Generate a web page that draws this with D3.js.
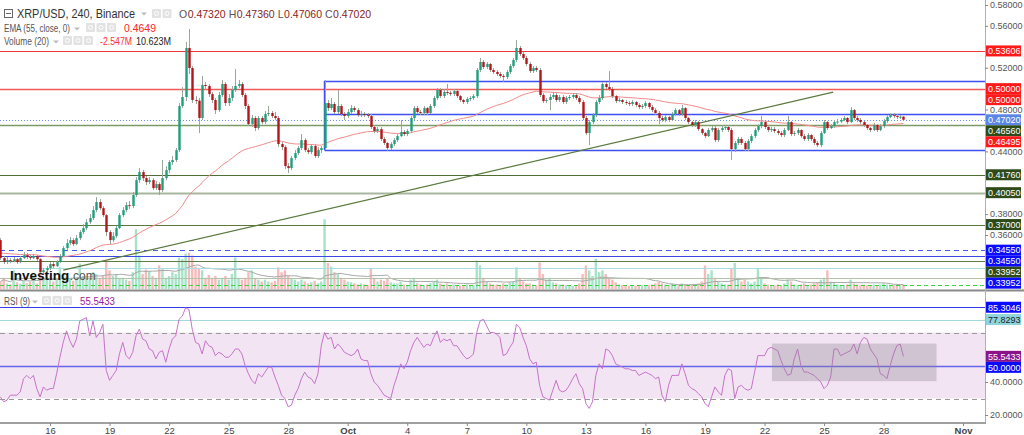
<!DOCTYPE html>
<html lang="en">
<head>
<meta charset="UTF-8">
<title>XRP/USD, 240, Binance</title>
<script src="https://d3js.org/d3.v7.min.js"></script>
<style>
body { margin: 0; background: #fff; }
svg { display: block; font-family: "Liberation Sans", Arial, sans-serif; }
</style>
</head>
<body>
<svg width="1024" height="435"></svg>
<script>
// ---- data (4h candles, XRP/USD Binance, from Sep 13 2018 12:00 UTC) ----
const firstOpen = 0.3551;
const closes = [
  .3379,.3341,.3360,.3350,.3369,.3341,.3379,.3408,.3389,.3379,
  .3398,.3369,.3245,.3264,.3283,.3322,.3302,.3341,.3398,.3475,
  .3522,.3551,.3513,.3570,.3628,.3666,.3723,.3762,.3838,.3915,
  .3857,.3790,.3628,.3551,.3589,.3666,.3790,.3838,.3886,.3877,
  .3982,.4125,.4202,.4144,.4106,.4125,.4049,.4087,.4030,.4144,
  .4221,.4298,.4317,.4412,.4834,.4920,.5389,.5197,.4891,.4885,
  .4719,.5035,.5025,.4948,.4891,.4795,.4939,.5044,.4862,.4910,
  .4987,.5025,.5044,.4939,.4834,.4661,.4719,.4623,.4719,.4680,
  .4757,.4767,.4738,.4719,.4470,.4441,.4259,.4240,.4336,.4384,
  .4432,.4508,.4412,.4393,.4451,.4355,.4412,.4432,.4862,.4814,
  .4853,.4776,.4834,.4757,.4738,.4776,.4814,.4795,.4747,.4757,
  .4750,.4738,.4633,.4594,.4613,.4518,.4480,.4432,.4470,.4508,
  .4546,.4585,.4566,.4594,.4719,.4814,.4776,.4767,.4814,.4767,
  .4834,.4910,.4987,.4929,.4968,.4960,.4948,.4977,.4929,.4891,
  .4872,.4901,.4910,.4929,.5178,.5255,.5207,.5236,.5178,.5159,
  .5140,.5121,.5111,.5159,.5216,.5274,.5389,.5331,.5293,.5236,
  .5168,.5197,.5178,.4939,.4881,.4891,.4920,.4939,.4891,.4920,
  .4872,.4910,.4920,.4939,.4910,.4872,.4719,.4575,.4680,.4747,
  .4872,.4910,.5044,.5015,.4996,.4929,.4881,.4891,.4872,.4862,
  .4853,.4872,.4843,.4824,.4834,.4862,.4824,.4795,.4767,.4719,
  .4700,.4728,.4700,.4757,.4795,.4757,.4814,.4719,.4680,.4652,
  .4680,.4613,.4575,.4546,.4604,.4623,.4508,.4604,.4623,.4633,
  .4604,.4422,.4480,.4518,.4480,.4422,.4499,.4546,.4604,.4642,
  .4680,.4633,.4604,.4613,.4594,.4575,.4556,.4604,.4680,.4566,
  .4575,.4604,.4546,.4518,.4556,.4518,.4480,.4460,.4575,.4680,
  .4623,.4642,.4680,.4685,.4700,.4719,.4680,.4795,.4719,.4700,
  .4680,.4652,.4623,.4604,.4652,.4604,.4642,.4690,.4728,.4747,
  .4738,.4728,.4732,.4702
];
const highs = [
  .3570,.3400,.3389,.3379,.3389,.3379,.3398,.3437,.3427,.3408,
  .3418,.3408,.3379,.3283,.3302,.3341,.3341,.3360,.3418,.3494,
  .3560,.3580,.3570,.3599,.3647,.3705,.3752,.3800,.3877,.3963,
  .3944,.3877,.3800,.3647,.3628,.3685,.3810,.3867,.3915,.3925,
  .4011,.4154,.4240,.4221,.4164,.4154,.4144,.4116,.4106,.4317,
  .4259,.4317,.4355,.4432,.4862,.5015,.5446,.5570,.5216,.4929,
  .4910,.5121,.5063,.5044,.4968,.4910,.4968,.5082,.5063,.4948,
  .5025,.5188,.5082,.5063,.4958,.4853,.4747,.4738,.4738,.4738,
  .4786,.4834,.4786,.4776,.4738,.4489,.4460,.4288,.4355,.4412,
  .4451,.4566,.4527,.4432,.4470,.4470,.4441,.4451,.5082,.4891,
  .4910,.4872,.4987,.4853,.4776,.4805,.4843,.4834,.4814,.4786,
  .4776,.4767,.4757,.4652,.4633,.4633,.4537,.4489,.4489,.4527,
  .4566,.4700,.4604,.4613,.4738,.4834,.4834,.4795,.4834,.4824,
  .4853,.4929,.5006,.5006,.4996,.5044,.4977,.4996,.4987,.4939,
  .4901,.4920,.4929,.4948,.5197,.5293,.5274,.5255,.5245,.5197,
  .5178,.5159,.5140,.5178,.5236,.5293,.5465,.5408,.5350,.5312,
  .5255,.5216,.5216,.5197,.4958,.4910,.4948,.4968,.4958,.4939,
  .4939,.4929,.4939,.4958,.4958,.4929,.4891,.4738,.4700,.4767,
  .4891,.4939,.5063,.5063,.5168,.5015,.4939,.4910,.4901,.4891,
  .4881,.4891,.4881,.4862,.4853,.4881,.4872,.4843,.4814,.4786,
  .4738,.4747,.4738,.4776,.4814,.4805,.4843,.4824,.4728,.4690,
  .4700,.4690,.4623,.4585,.4623,.4642,.4642,.4623,.4652,.4652,
  .4652,.4623,.4499,.4537,.4537,.4499,.4518,.4566,.4623,.4661,
  .4738,.4700,.4652,.4633,.4633,.4613,.4594,.4623,.4738,.4690,
  .4594,.4623,.4613,.4566,.4575,.4566,.4537,.4499,.4594,.4700,
  .4690,.4661,.4700,.4710,.4719,.4738,.4728,.4824,.4805,.4738,
  .4719,.4690,.4661,.4633,.4671,.4661,.4661,.4710,.4747,.4767,
  .4767,.4757,.4747,.4736
];
const lows = [
  .3360,.3322,.3322,.3331,.3341,.3322,.3331,.3370,.3370,.3360,
  .3370,.3350,.3226,.3216,.3245,.3264,.3283,.3293,.3331,.3389,
  .3456,.3503,.3494,.3503,.3551,.3608,.3647,.3705,.3743,.3819,
  .3838,.3771,.3589,.3513,.3532,.3570,.3656,.3771,.3819,.3848,
  .3857,.3963,.4097,.4116,.4078,.4087,.4030,.4030,.3982,.4011,
  .4125,.4192,.4269,.4298,.4393,.4814,.4881,.5140,.4862,.4853,
  .4575,.4700,.4987,.4920,.4862,.4757,.4776,.4920,.4834,.4834,
  .4881,.4968,.5006,.4920,.4805,.4642,.4633,.4594,.4604,.4661,
  .4661,.4738,.4719,.4700,.4441,.4412,.4230,.4192,.4221,.4317,
  .4365,.4412,.4393,.4374,.4374,.4336,.4336,.4384,.4422,.4786,
  .4795,.4757,.4757,.4738,.4700,.4719,.4757,.4776,.4728,.4728,
  .4728,.4719,.4613,.4575,.4575,.4499,.4460,.4403,.4412,.4451,
  .4489,.4537,.4546,.4546,.4575,.4700,.4757,.4747,.4747,.4747,
  .4757,.4814,.4891,.4910,.4910,.4939,.4929,.4929,.4910,.4872,
  .4853,.4853,.4881,.4891,.4910,.5159,.5188,.5188,.5159,.5140,
  .5121,.5101,.5063,.5092,.5140,.5197,.5255,.5312,.5274,.5216,
  .5149,.5149,.5159,.4920,.4862,.4862,.4795,.4901,.4872,.4872,
  .4853,.4853,.4891,.4901,.4891,.4853,.4700,.4556,.4460,.4661,
  .4728,.4853,.4891,.4996,.4977,.4910,.4862,.4872,.4853,.4843,
  .4834,.4834,.4824,.4805,.4805,.4814,.4805,.4776,.4747,.4661,
  .4680,.4680,.4680,.4690,.4738,.4738,.4738,.4700,.4661,.4633,
  .4633,.4594,.4556,.4527,.4537,.4585,.4489,.4489,.4585,.4604,
  .4585,.4317,.4393,.4460,.4460,.4403,.4403,.4480,.4527,.4585,
  .4623,.4613,.4585,.4585,.4575,.4556,.4537,.4537,.4594,.4546,
  .4546,.4556,.4527,.4499,.4499,.4499,.4460,.4441,.4441,.4566,
  .4604,.4613,.4623,.4661,.4671,.4690,.4661,.4671,.4700,.4680,
  .4661,.4633,.4604,.4585,.4594,.4585,.4594,.4623,.4671,.4719,
  .4719,.4710,.4710,.4702
];
// volume in millions XRP
const volumes = [
  20,30,15,12,50,18,14,22,16,20, 37,15,45,30,45,25,20,25,58,40,
  35,28,22,30,68,35,30,28,45,40, 30,35,76,50,35,40,30,30,25,22,
  45,160,90,40,52,48,35,30,63,55, 30,35,45,40,84,80,95,97,90,60,
  55,50,30,38,30,35,25,30,35,25, 40,84,30,25,30,45,50,30,25,20,
  25,20,18,22,58,45,50,35,30,25, 20,25,20,15,18,22,15,20,187,70,
  60,45,40,30,25,20,18,15,12,15, 12,10,55,30,20,25,22,30,18,15,
  15,20,12,10,25,30,15,12,10,12, 15,20,25,15,12,15,10,12,10,8,
  10,12,8,10,76,63,30,20,15,12, 12,10,15,12,18,20,58,30,20,15,
  15,12,10,71,40,25,30,18,15,12, 12,10,10,8,10,15,40,63,50,35,
  81,45,50,40,30,25,18,12,10,10, 8,10,8,8,10,8,10,12,15,20,
  15,12,10,15,12,10,15,12,10,12, 10,15,20,63,40,50,30,20,15,12,
  12,55,70,30,20,25,20,15,20,55, 30,15,12,10,10,12,10,15,25,20,
  12,10,12,15,10,12,15,18,25,30, 50,20,15,12,10,10,12,25,15,12,
  10,12,10,10,12,10,12,15,12,10, 10,12,10,10.623
];
const rsiValues = [
  31,28,29,32,32,32,34,42,44,42, 44,36,31,37,35,36,36,45,55,64,
  71,65,61,66,77,78,79,68,77,67, 70,75,47,41,44,47,57,64,56,54,
  58,68,72,66,65,60,59,54,58,59, 52,60,66,68,78,80,85,84,72,64,
  63,57,65,62,61,56,58,57,55,55, 57,60,60,57,50,45,41,39,45,43,
  46,49,49,43,38,32,30,25,26,32, 36,42,46,43,42,39,45,62,70,66,
  67,60,63,61,58,57,56,57,60,54, 53,53,45,40,38,35,32,31,30,38,
  44,51,48,52,59,64,67,64,61,63, 62,67,71,64,66,65,66,62,62,59,
  56,54,55,57,70,77,78,74,70,70, 69,67,56,57,61,64,75,73,67,62,
  54,51,52,38,31,30,29,35,41,35, 34,35,38,42,45,39,36,27,24,28,
  44,51,48,60,59,56,51,50,49,48, 48,47,47,44,45,46,45,44,42,43,
  32,28,38,44,44,44,51,45,38,36, 35,33,31,27,25,31,37,34,32,44,
  48,47,30,37,38,36,35,36,46,56, 56,56,60,61,60,59,53,48,44,45,
  54,60,50,46,46,45,44,42,40,36, 38,43,60,60,56,57,58,59,63,57,
  64,67,66,60,57,54,45,44,42,50, 57,62,63,55.5433
];
const emaStart = 0.343;

// drawn levels (prices) on the price pane
const levelPrices = [0.53606, 0.5, 0.4702, 0.4656, 0.4176, 0.4005, 0.37, 0.3455, 0.33952, 0.3352, 0.3285, 0.3190, 0.3123];
const boxPrices = [0.5076, 0.4756, 0.4412];   // top, middle, bottom of the range box
const boxStart = Date.UTC(2018, 8, 29, 20);
const trendPoints = [[Date.UTC(2018, 8, 16, 16), 0.3264], [Date.UTC(2018, 9, 25, 11), 0.4967]];
const priceLabelTexts = ["0.53606", "0.50000", "0.50000", "0.47020", "0.46560", "0.46495", "0.41760", "0.40050", "0.37000", "0.34550", "0.34550", "0.33952", "0.33952"];
const priceLabelValues = [0.53606, 0.5, 0.5, 0.4702, 0.4656, 0.46495, 0.4176, 0.4005, 0.37, 0.3455, 0.3455, 0.33952, 0.33952];
const rsiLevels = [85.3046, 77.8293, 50];
const rsiLabelTexts = ["85.3046", "77.8293", "55.5433", "50.0000"];
const rsiLabelValues = [85.3046, 77.8293, 55.5433, 50];
const rsiBox = { start: Date.UTC(2018, 9, 22, 9), end: Date.UTC(2018, 9, 30, 16), top: 63.3, bottom: 40.5 };
const dayTicks = [[8,16],[8,19],[8,22],[8,25],[8,28],[9,1],[9,4],[9,7],[9,10],[9,13],[9,16],[9,19],[9,22],[9,25],[9,28],[10,1]];
const ohlcLetters = ["O", "H", "L", "C"];
const ohlcValues = ["0.47320", "0.47360", "0.47060", "0.47020"];

// ---- styles ----
const levelStyle = [
  { c: "#ee3b3b", w: 1 }, { c: "#f25a5a", w: 1.5 }, { c: "#6c8ff0", w: 1, d: "1,2" },
  { c: "#7d9a62", w: 1.5 }, { c: "#4f6d34", w: 1 }, { c: "#a7b69d", w: 2 }, { c: "#58783c", w: 1 },
  { c: "#4b5cf2", w: 1, d: "5,4" }, { c: "#3a48e6", w: 1 }, { c: "#5f7a44", w: 1 },
  { c: "#a9dde3", w: 1.2 }, { c: "#b3c2a8", w: 1 }, { c: "#3fd03f", w: 1, d: "4,3" }
];
const priceLabelColors = ["#ff1a1a", "#ff1a1a", "#ff1a1a", "#5b86e5", "#2f4a19", "#ff1a1a", "#2f4a19", "#2f4a19", "#2f4a19", "#0a0aff", "#0a0aff", "#2f4a19", "#0a0aff"];
const rsiLabelColors = ["#0a0aff", "#8fd4dc", "#8b148b", "#0a0aff"];
const rsiLabelText = ["#fff", "#222", "#fff", "#fff"];

const svg = d3.select("svg");
const plotRight = 985, priceBottom = 289, rsiBottom = 423;

const x = d3.scaleUtc().domain([Date.UTC(2018, 8, 16), Date.UTC(2018, 10, 1)]).range([50, 963]);
const y = d3.scaleLinear().domain([0.36, 0.58]).range([235, 5]);
const yR = d3.scaleLinear().domain([20, 60]).range([415, 349]);
const yV = d3.scaleLinear().domain([0, 190]).range([priceBottom, 218]);

const start = Date.UTC(2018, 8, 13, 12);
const step = 4 * 3600 * 1000;
const n = Math.min(closes.length, highs.length, lows.length, volumes.length, rsiValues.length);
const candles = d3.range(n).map(i => ({
  t: start + i * step,
  o: i ? closes[i - 1] : firstOpen,
  h: highs[i], l: lows[i], c: closes[i],
  v: volumes[i], r: rsiValues[i]
}));
let e = emaStart;
candles.forEach((d, i) => {
  e = e + (d.c - e) * 2 / 56;
  d.ema = e;
  const win = candles.slice(Math.max(0, i - 19), i + 1);
  d.vma = d3.mean(win, w => w.v);
});

svg.append("rect").attr("width", 1024).attr("height", 435).attr("fill", "#fff");

const defs = svg.append("defs");
defs.append("clipPath").attr("id", "pclip").append("rect").attr("x", 0).attr("y", 0).attr("width", plotRight).attr("height", priceBottom);
defs.append("clipPath").attr("id", "rclip").append("rect").attr("x", 0).attr("y", 292).attr("width", plotRight).attr("height", rsiBottom - 292);

const pane = svg.append("g").attr("clip-path", "url(#pclip)");

// volume
pane.append("g").selectAll("rect").data(candles).join("rect")
  .attr("x", d => x(d.t) - 1.2).attr("width", 2.4)
  .attr("y", d => yV(d.v)).attr("height", d => priceBottom - yV(d.v))
  .attr("fill", d => d.c >= d.o ? "#a6e3c8" : "#f7baba");
pane.append("path").datum(candles)
  .attr("fill", "none").attr("stroke", "#a8a8a8").attr("stroke-width", 1)
  .attr("d", d3.line().x(d => x(d.t)).y(d => yV(d.vma)));

// horizontal levels
pane.append("g").selectAll("line").data(levelPrices).join("line")
  .attr("x1", 0).attr("x2", plotRight)
  .attr("y1", d => Math.round(y(d)) + 0.5).attr("y2", d => Math.round(y(d)) + 0.5)
  .attr("stroke", (d, i) => levelStyle[i].c)
  .attr("stroke-width", (d, i) => levelStyle[i].w)
  .attr("stroke-dasharray", (d, i) => levelStyle[i].d || null);

// range box
const bx = x(boxStart);
pane.append("g").selectAll("line").data(boxPrices).join("line")
  .attr("x1", bx).attr("x2", plotRight)
  .attr("y1", d => Math.round(y(d)) + 0.5).attr("y2", d => Math.round(y(d)) + 0.5)
  .attr("stroke", "#3f4ff0").attr("stroke-width", 1.6);
pane.append("line").attr("x1", bx).attr("x2", bx)
  .attr("y1", y(boxPrices[0])).attr("y2", y(boxPrices[2]))
  .attr("stroke", "#3f4ff0").attr("stroke-width", 1.6);

// EMA 55
pane.append("path").datum(candles)
  .attr("fill", "none").attr("stroke", "#f28a8a").attr("stroke-width", 1)
  .attr("d", d3.line().x(d => x(d.t)).y(d => y(d.ema)));

// trend line
pane.append("line")
  .attr("x1", x(trendPoints[0][0])).attr("y1", y(trendPoints[0][1]))
  .attr("x2", x(trendPoints[1][0])).attr("y2", y(trendPoints[1][1]))
  .attr("stroke", "#5b7a3f").attr("stroke-width", 1.2);

// candles
const cg = pane.append("g");
cg.selectAll("line").data(candles).join("line")
  .attr("x1", d => Math.round(x(d.t)) + 0.5).attr("x2", d => Math.round(x(d.t)) + 0.5)
  .attr("y1", d => y(d.h)).attr("y2", d => y(d.l))
  .attr("stroke", "#9aa79a").attr("stroke-width", 1);
cg.selectAll("rect").data(candles).join("rect")
  .attr("x", d => Math.round(x(d.t)) - 0.7).attr("width", 2.4)
  .attr("y", d => y(Math.max(d.o, d.c)))
  .attr("height", d => Math.max(1, Math.abs(y(d.o) - y(d.c))))
  .attr("fill", d => d.c >= d.o ? "#1f9e7c" : "#b3161a");

// watermark
const wm1 = svg.append("text").attr("x", 10).attr("y", 280).attr("font-weight", "bold").attr("font-size", 13.5).attr("fill", "#111").text("Investing");
svg.append("text").attr("x", 10.5 + wm1.node().getComputedTextLength()).attr("y", 280).attr("font-size", 12).attr("fill", "#555").text(".com");

// ---- RSI pane ----
const rp = svg.append("g").attr("clip-path", "url(#rclip)");
rp.append("rect").attr("x", 0).attr("width", plotRight)
  .attr("y", yR(70)).attr("height", yR(30) - yR(70)).attr("fill", "#f2e4f2");
[70, 30].forEach(v => rp.append("line").attr("x1", 0).attr("x2", plotRight)
  .attr("y1", Math.round(yR(v)) + 0.5).attr("y2", Math.round(yR(v)) + 0.5)
  .attr("stroke", "#999").attr("stroke-dasharray", "5,4"));
rp.selectAll(".rl").data(rsiLevels).join("line").attr("class", "rl")
  .attr("x1", 0).attr("x2", plotRight)
  .attr("y1", d => Math.round(yR(d)) + 0.5).attr("y2", d => Math.round(yR(d)) + 0.5)
  .attr("stroke", (d, i) => ["#3a3ae8", "#9fd8de", "#6464ee"][i])
  .attr("stroke-width", (d, i) => i === 2 ? 1.6 : 1);
rp.append("path").datum(candles)
  .attr("fill", "none").attr("stroke", "#c673c9").attr("stroke-width", 1)
  .attr("d", d3.line().x(d => x(d.t)).y(d => yR(d.r)));
rp.append("rect")
  .attr("x", x(rsiBox.start)).attr("width", x(rsiBox.end) - x(rsiBox.start))
  .attr("y", yR(rsiBox.top)).attr("height", yR(rsiBox.bottom) - yR(rsiBox.top))
  .attr("fill", "#8c8490").attr("fill-opacity", 0.32);

// frame
svg.append("rect").attr("x", 0).attr("y", 289.5).attr("width", 1024).attr("height", 2).attr("fill", "#8a8a8a");
svg.append("line").attr("x1", plotRight + 0.5).attr("x2", plotRight + 0.5).attr("y1", 0).attr("y2", rsiBottom)
  .attr("stroke", "#b0b0b0");
svg.append("rect").attr("x", 0).attr("y", rsiBottom - 1).attr("width", plotRight + 1).attr("height", 2).attr("fill", "#a0a0a0");

// labels on the price scale (stacked so they do not overlap)
function stackLabels(items, h) {
  items.sort((a, b) => a.y - b.y);
  let last = -Infinity;
  items.forEach(d => { d.ly = Math.max(d.y, last + h); last = d.ly; });
  return items;
}
const pLabels = stackLabels(priceLabelTexts.map((t, i) => ({ text: t, y: y(priceLabelValues[i]), bg: priceLabelColors[i], fg: "#fff" })), 11);
const rLabels = stackLabels(rsiLabelTexts.map((t, i) => ({ text: t, y: yR(rsiLabelValues[i]), bg: rsiLabelColors[i], fg: rsiLabelText[i] })), 11);

function styleAxis(g, scale, labels) {
  g.select(".domain").remove();
  g.selectAll("line").attr("stroke", "#888");
  g.selectAll("text").attr("fill", "#555").attr("font-size", 9).attr("font-family", "Liberation Sans, Arial, sans-serif");
  g.selectAll(".tick").filter(d => labels.some(l => Math.abs(l.ly - scale(d)) < 9)).remove();
}
const pAxis = svg.append("g").attr("transform", `translate(${plotRight},0)`)
  .call(d3.axisRight(y).tickValues(d3.range(11).map(i => 0.38 + i * 0.02).concat([0.36])).tickFormat(d3.format(".5f")).tickSize(3).tickPadding(2));
styleAxis(pAxis, y, pLabels);
const rAxis = svg.append("g").attr("transform", `translate(${plotRight},0)`)
  .call(d3.axisRight(yR).tickValues([20, 40, 60, 80]).tickFormat(d3.format(".4f")).tickSize(3).tickPadding(2));
styleAxis(rAxis, yR, rLabels);

function drawLabels(items) {
  const g = svg.append("g");
  const sel = g.selectAll("g").data(items).join("g").attr("transform", d => `translate(${plotRight + 1},${d.ly})`);
  sel.append("rect").attr("x", 0).attr("y", -5.5).attr("width", 35).attr("height", 11).attr("fill", d => d.bg);
  sel.append("text").attr("x", 2).attr("y", 3.3).attr("font-size", 9).attr("fill", d => d.fg).text(d => d.text);
}
drawLabels(pLabels);
drawLabels(rLabels);

// time axis
const tAxis = svg.append("g").attr("transform", `translate(0,${rsiBottom})`)
  .call(d3.axisBottom(x).tickValues(dayTicks.map(([m, dd]) => new Date(Date.UTC(2018, m, dd))))
    .tickFormat(d => d.getUTCDate() === 1 ? d3.utcFormat("%b")(d) : d.getUTCDate()).tickSize(3).tickPadding(1));
tAxis.select(".domain").remove();
tAxis.selectAll("line").attr("stroke", "#888");
tAxis.selectAll("text").attr("fill", "#444").attr("font-size", 9.5).attr("font-family", "Liberation Sans, Arial, sans-serif")
  .attr("font-weight", d => d.getUTCDate() === 1 ? "bold" : null);

// ---- legend texts ----
function icons(x0, yc, count) {
  for (let i = 0; i < count; i++) {
    svg.append("rect").attr("x", x0 + i * 10.5).attr("y", yc - 5).attr("width", 9).attr("height", 9).attr("rx", 1).attr("fill", "#e2e2e2");
    svg.append("circle").attr("cx", x0 + i * 10.5 + 4.5).attr("cy", yc - 0.5).attr("r", 2).attr("fill", "none").attr("stroke", "#fff").attr("stroke-width", 1);
  }
}
function caret(x0, yc) {
  svg.append("path").attr("d", `M${x0},${yc - 1.5}h6l-3,3z`).attr("fill", "#bbb");
}
function label(x0, y0, size, color, str, len) {
  const t = svg.append("text").attr("x", x0).attr("y", y0).attr("font-size", size).attr("fill", color).text(str);
  if (len) t.attr("textLength", len).attr("lengthAdjust", "spacingAndGlyphs");
  return t;
}
svg.append("rect").attr("x", 4.5).attr("y", 9.5).attr("width", 8).attr("height", 8).attr("fill", "none").attr("stroke", "#666");
svg.append("line").attr("x1", 6).attr("x2", 11).attr("y1", 13.5).attr("y2", 13.5).attr("stroke", "#666");
label(17, 18, 12, "#333", "XRP/USD, 240, Binance", 118);
caret(141, 14);
icons(152, 14, 2);
// OHLC readout: letter then value, laid out left to right with measured widths
let ox = 179;
ohlcLetters.forEach((k, i) => {
  const lt = label(ox, 18, 10.5, "#555", k);
  ox += lt.node().getComputedTextLength() + 0.5;
  const vt = label(ox, 18, 10.5, "#8b2323", ohlcValues[i]);
  ox += vt.node().getComputedTextLength() + 3;
});
label(4, 32, 10, "#555", "EMA (55, close, 0)", 66);
caret(74, 29);
icons(86, 28, 3);
label(124, 32, 10, "#ff2020", "0.4649", 32);
label(4, 45, 10, "#555", "Volume (20)", 45);
caret(53, 42);
icons(63, 41, 3);
label(100, 45, 10, "#ff3030", "-2.547M", 32);
label(136, 45, 10, "#222", "10.623M", 35);
label(4, 305, 10, "#555", "RSI (9)", 26);
caret(32, 302);
icons(42, 301, 3);
label(80, 305, 10, "#9a1a9a", "55.5433", 35);
</script>
</body>
</html>
